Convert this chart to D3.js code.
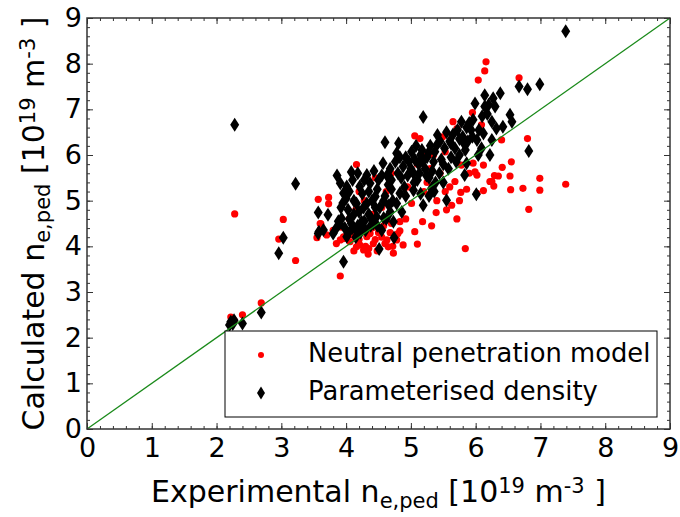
<!DOCTYPE html>
<html>
<head>
<meta charset="utf-8">
<script src="https://cdn.jsdelivr.net/npm/d3@7"></script>
<style>
  body { margin: 0; background: #fff; }
  text { font-family: "DejaVu Sans", sans-serif; fill: #000; }
</style>
</head>
<body>
<div id="vis"></div>
<script>
var width = 680;
var height = 517;
var margin = { left: 87, right: 10, top: 18, bottom: 88 };

// Neutral penetration model  [experimental, calculated]
var neutralPts = [
  [2.22,2.45],[2.25,2.40],[2.27,2.38],[2.40,2.50],[2.69,2.76],[2.28,4.71],[2.96,4.16],[3.03,4.59],[3.22,3.69],
  [3.57,5.03],[3.73,5.07],[3.73,4.93],[3.61,4.49],[3.55,4.19],[3.91,3.35],[3.93,4.42],[3.96,4.17],[3.91,4.14],
  [3.85,4.06],[3.96,4.21],[3.60,4.50],[3.70,4.25],[3.80,4.35],
  [4.16,5.79],[4.16,3.99],[4.21,4.03],[4.27,3.92],[4.32,4.21],[4.37,4.28],[4.42,4.06],[4.34,3.83],[4.60,4.06],
  [4.63,4.14],[4.65,3.99],[4.78,4.14],[4.80,4.28],[4.06,4.10],[4.10,4.25],[4.12,3.90],[4.20,4.15],[4.25,4.35],
  [4.30,4.00],[4.35,3.95],[4.40,4.40],[4.45,4.15],[4.50,4.30],[4.48,3.90],[4.55,4.20],[4.58,4.45],[4.68,4.30],
  [4.70,4.50],[4.72,4.00],[4.73,3.85],[4.05,4.60],[4.15,4.80],[4.28,5.00],[4.40,4.70],[4.55,4.85],[4.62,5.20],
  [4.70,5.60],[4.20,5.20],[4.45,5.50],
  [4.83,4.54],[4.83,4.34],[4.88,4.03],[4.92,4.60],[5.01,4.94],[5.06,4.32],[5.10,4.05],[5.18,4.54],[5.32,4.45],
  [5.39,4.74],[5.40,5.00],[5.53,5.20],[5.63,4.90],[5.71,4.60],[5.84,3.95],[5.06,6.42],[5.14,6.36],[5.19,5.97],
  [4.95,5.30],[5.00,5.60],[5.10,5.80],[5.20,5.20],[5.25,5.40],[5.30,5.70],[5.35,6.00],[5.45,5.60],[5.49,6.40],
  [5.53,6.07],[5.65,6.73],[5.71,6.58],[5.68,5.42],[5.77,5.18],[5.78,5.78],[5.86,5.25],[5.85,6.34],[5.95,6.93],
  [5.60,5.30],[5.75,5.00],[5.55,4.80],[5.90,5.60],
  [5.96,5.82],[5.99,5.63],[6.02,5.56],[6.04,7.64],[6.07,6.55],[6.09,6.66],[6.12,5.78],[6.12,5.22],[6.14,7.84],
  [6.16,8.04],[6.22,5.42],[6.25,5.42],[6.28,5.32],[6.29,5.55],[6.35,5.54],[6.40,6.33],[6.41,5.73],[6.53,5.54],
  [6.54,5.24],[6.55,5.85],[6.67,7.69],[6.73,5.27],[6.80,6.36],[6.82,4.81],[6.99,5.49],[6.99,5.23],[7.39,5.36],
  [6.02,5.16]
];

// Parameterised density  [experimental, calculated]
var paramPts = [
  [2.20,2.28],[2.22,2.35],[2.25,2.30],[2.27,2.38],[2.40,2.31],[2.69,2.55],[2.28,6.66],[2.96,3.85],[3.03,4.19],
  [3.22,5.37],[3.57,4.74],[3.72,4.69],[3.57,4.28],[3.65,4.36],[3.58,4.32],[3.80,4.28],[3.86,5.55],[3.91,5.38],
  [3.96,3.66],[3.96,5.16],[3.93,4.61],[4.01,4.21],[4.01,5.31],[4.03,4.80],[4.03,4.28],[3.90,4.50],[3.95,4.95],
  [4.00,5.05],[3.85,4.40],[4.05,4.60],[4.08,5.63],[4.10,4.40],[4.12,5.00],[4.16,4.36],[4.16,4.94],[4.21,5.31],
  [4.24,4.54],[4.20,4.75],[4.25,5.15],[4.28,5.45],[4.30,4.35],[4.32,5.56],[4.32,4.94],[4.35,4.70],[4.37,5.38],
  [4.40,5.00],[4.42,4.50],[4.45,5.09],[4.47,4.65],[4.48,5.25],[4.51,3.94],[4.52,4.85],[4.55,5.55],[4.57,5.82],
  [4.60,6.28],[4.60,5.10],[4.62,4.60],[4.65,5.35],[4.66,4.90],[4.68,5.70],[4.70,5.45],[4.72,5.00],[4.73,4.54],
  [4.74,4.19],[4.76,5.85],[4.78,4.94],[4.78,6.04],[4.80,5.60],[4.81,6.26],[4.83,5.16],[4.85,5.50],[4.88,5.75],
  [4.90,5.30],[4.92,5.95],[4.95,5.55],[5.00,5.70],[5.01,6.07],[5.04,5.60],[5.04,5.23],[5.06,5.90],[5.10,5.45],
  [5.12,5.80],[5.15,6.00],[5.17,6.11],[5.19,6.83],[5.19,4.90],[5.22,5.70],[5.25,5.95],[5.28,5.50],[5.30,6.20],
  [5.32,5.27],[5.35,5.85],[5.37,6.07],[5.40,6.22],[5.41,6.44],[5.44,5.60],[5.47,5.90],[5.50,5.40],[5.52,6.15],
  [5.55,5.01],[5.58,5.70],[5.60,6.30],[5.62,5.95],[5.65,6.45],[5.68,6.15],[5.72,6.55],[5.75,6.00],[5.78,6.73],
  [5.80,6.40],[5.83,5.56],[5.84,6.11],[5.86,5.82],[5.86,6.60],[5.90,6.70],[5.93,6.55],[5.96,6.77],[5.99,7.13],
  [6.01,5.14],[6.02,6.33],[6.04,6.00],[6.09,6.15],[6.12,6.47],[6.14,7.31],[6.14,7.06],[6.22,6.00],[6.25,6.73],
  [6.25,6.33],[6.27,7.24],[6.30,7.06],[6.32,6.58],[6.38,7.35],[6.42,6.62],[6.53,6.88],[6.56,6.73],[6.67,7.50],
  [6.80,7.44],[6.82,6.09],[6.99,7.55],[7.39,8.71],
  [3.88,4.55],[3.92,4.85],[4.05,5.20],[4.10,5.45],[4.15,4.20],[4.18,5.60],[4.22,4.30],[4.27,4.85],[4.35,5.20],
  [4.38,4.45],[4.43,5.65],[4.45,4.85],[4.50,5.45],[4.55,4.35],[4.58,5.00],[4.63,5.55],[4.68,4.75],[4.70,5.25],
  [4.83,5.95],[4.86,4.75],[4.92,5.10],[4.97,5.85],[5.05,5.40],[5.08,6.20],[5.13,5.60],[5.18,5.85],[5.24,5.55],
  [5.27,6.05],[5.33,5.65],[5.38,5.40],[5.45,6.30],[5.50,5.80],[5.55,6.50],[5.62,6.25],[5.70,5.85],[5.75,6.35],
  [5.82,6.25],[5.88,6.30],[5.95,6.40],[6.05,6.55],[6.10,6.85],[6.18,6.90],[6.20,7.10],
  [3.98,4.40],[4.08,4.50],[4.18,4.45],[4.28,4.55],[4.38,4.62],[4.12,4.70],[4.25,4.40],[4.48,4.45],[4.58,4.62],
  [5.15,5.15],[5.28,5.10],[5.36,5.20]
];

var majorTicks = [0, 1, 2, 3, 4, 5, 6, 7, 8, 9];
var minorTicks = d3.range(0, 45).map(function (i) { return i / 5; });
var legendLabels = ['Neutral penetration model', 'Parameterised density'];

var x = d3.scaleLinear().domain([0, 9]).range([margin.left, width - margin.right]);
var y = d3.scaleLinear().domain([0, 9]).range([height - margin.bottom, margin.top]);

var svg = d3.select('#vis').append('svg')
  .attr('width', width)
  .attr('height', height);

svg.append('rect').attr('width', width).attr('height', height).attr('fill', '#fff');

// ticks on all four sides, pointing in
function addAxis(axisFn, transform, ticks, size, labels) {
  var g = svg.append('g')
    .attr('transform', transform)
    .call(axisFn.tickValues(ticks).tickSize(size).tickPadding(labels ? 9 : 0)
      .tickFormat(labels ? d3.format('d') : ''));
  g.select('.domain').remove();
  g.selectAll('line').attr('stroke', '#333').attr('stroke-width', 1);
  g.selectAll('text').style('font-size', '27px').style('font-family', '"DejaVu Sans", sans-serif');
  return g;
}
var bottomY = y(0), topY = y(9), leftX = x(0), rightX = x(9);
addAxis(d3.axisBottom(x), 'translate(0,' + bottomY + ')', minorTicks, -3, false);
addAxis(d3.axisTop(x), 'translate(0,' + topY + ')', minorTicks, -3, false);
addAxis(d3.axisLeft(y), 'translate(' + leftX + ',0)', minorTicks, -3, false);
addAxis(d3.axisRight(y), 'translate(' + rightX + ',0)', minorTicks, -3, false);
addAxis(d3.axisBottom(x), 'translate(0,' + bottomY + ')', majorTicks, -6, true);
addAxis(d3.axisTop(x), 'translate(0,' + topY + ')', majorTicks, -6, false);
var yl = addAxis(d3.axisLeft(y), 'translate(' + leftX + ',0)', majorTicks, -6, true);
yl.selectAll('text').attr('x', -5);
addAxis(d3.axisRight(y), 'translate(' + rightX + ',0)', majorTicks, -6, false);

// points
svg.append('g').selectAll('circle')
  .data(neutralPts)
  .enter().append('circle')
  .attr('cx', function (d) { return x(d[0]); })
  .attr('cy', function (d) { return y(d[1]); })
  .attr('r', 3.6)
  .attr('fill', '#ff0000');

var diamond = 'M0,-7L4.5,0L0,7L-4.5,0Z';
svg.append('g').selectAll('path')
  .data(paramPts)
  .enter().append('path')
  .attr('d', diamond)
  .attr('transform', function (d) { return 'translate(' + x(d[0]) + ',' + y(d[1]) + ')'; })
  .attr('fill', '#000');

// one-to-one line
svg.append('line')
  .attr('x1', x(0)).attr('y1', y(0))
  .attr('x2', x(9)).attr('y2', y(9))
  .attr('stroke', '#1a8a1a')
  .attr('stroke-width', 1.3);

// frame
svg.append('rect')
  .attr('x', leftX).attr('y', topY)
  .attr('width', rightX - leftX).attr('height', bottomY - topY)
  .attr('fill', 'none')
  .attr('stroke', '#333')
  .attr('stroke-width', 1.5);

// legend
var legend = svg.append('g').attr('transform', 'translate(225,331)');
legend.append('rect')
  .attr('width', 432).attr('height', 86)
  .attr('fill', '#fff').attr('stroke', '#000').attr('stroke-width', 1);
legend.append('circle').attr('cx', 36).attr('cy', 24).attr('r', 3).attr('fill', '#ff0000');
legend.append('path').attr('d', 'M0,-6.5L4,0L0,6.5L-4,0Z')
  .attr('transform', 'translate(36,62)').attr('fill', '#000');
legend.selectAll('text.lab')
  .data(legendLabels)
  .enter().append('text')
  .attr('class', 'lab')
  .attr('x', 83)
  .attr('y', function (d, i) { return 31 + i * 38; })
  .style('font-size', '25.8px')
  .text(function (d) { return d; });

// axis titles with sub/superscripts
function title(sel, main) {
  sel.append('tspan').text(main + ' n');
  sel.append('tspan').attr('baseline-shift', '-30%').style('font-size', '21px').text('e,ped');
  sel.append('tspan').text(' [10');
  sel.append('tspan').attr('baseline-shift', '45%').style('font-size', '21px').text('19');
  sel.append('tspan').text(' m');
  sel.append('tspan').attr('baseline-shift', '45%').style('font-size', '21px').text('-3');
  sel.append('tspan').text(' ]');
}
var xt = svg.append('text')
  .attr('x', x(4.5)).attr('y', 502)
  .attr('text-anchor', 'middle')
  .style('font-size', '30px');
title(xt, 'Experimental');

var yt = svg.append('text')
  .attr('transform', 'translate(44,' + y(4.5) + ') rotate(-90)')
  .attr('text-anchor', 'middle')
  .style('font-size', '30px');
title(yt, 'Calculated');
</script>
</body>
</html>
